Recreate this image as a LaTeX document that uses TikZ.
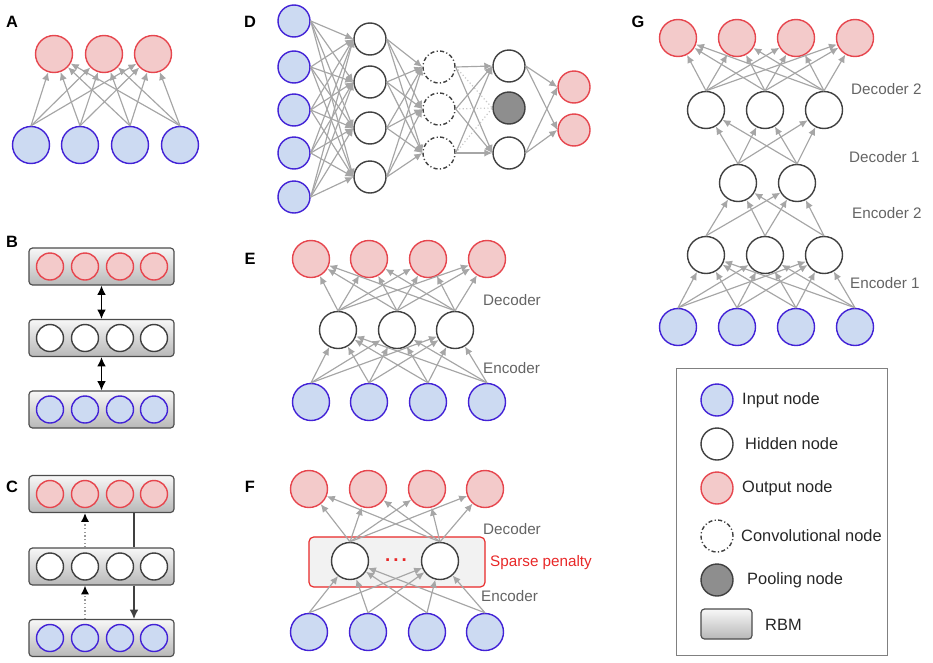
\documentclass[tikz,border=0pt]{standalone}
\usepackage{fontspec}
\setmainfont{Liberation Sans}
\usetikzlibrary{arrows.meta,positioning,calc}
\definecolor{inpfill}{RGB}{204,218,242}
\definecolor{inpline}{RGB}{66,34,214}
\definecolor{outfill}{RGB}{243,202,202}
\definecolor{outline}{RGB}{230,70,78}
\definecolor{hidline}{RGB}{64,64,64}
\definecolor{poolfill}{RGB}{142,142,142}
\definecolor{linkgray}{RGB}{166,166,166}
\definecolor{notegray}{RGB}{100,100,100}
\definecolor{sparsered}{RGB}{232,40,40}
\tikzset{
  neuron/.style={circle,inner sep=0pt,line width=1.2pt,minimum size=#1},
  neuron/.default=11.1mm,
  inpnode/.style={neuron=#1,draw=inpline,fill=inpfill},
  inpnode/.default=11.1mm,
  hidnode/.style={neuron=#1,draw=hidline,fill=white},
  hidnode/.default=11.1mm,
  outnode/.style={neuron=#1,draw=outline,fill=outfill},
  outnode/.default=11.1mm,
  convnode/.style={neuron=#1,draw=hidline,fill=white,dash pattern=on 3.5pt off 2pt on 1pt off 2pt},
  convnode/.default=9.6mm,
  poolnode/.style={neuron=#1,draw=hidline,fill=poolfill},
  poolnode/.default=9.6mm,
  rbmbox/.style={draw=black!70,line width=1pt,rounded corners=3pt,top color=black!3,bottom color=black!28,
    minimum width=43.5mm,minimum height=11.1mm,inner sep=0pt},
  sparsebox/.style={draw=sparsered,line width=1pt,rounded corners=4pt,fill=black!5,
    minimum width=52.8mm,minimum height=15mm,inner sep=0pt},
  keybox/.style={draw=black!50,line width=0.8pt,minimum width=63.3mm,minimum height=86.1mm,inner sep=0pt},
  link/.style={-{Latex[length=2.4mm,width=2.2mm]},line width=1pt,draw=linkgray},
  dotlink/.style={line width=1pt,draw=black!22,dotted},
  duplex/.style={{Latex[length=2.8mm,width=2.6mm]}-{Latex[length=2.8mm,width=2.6mm]},line width=1.1pt,draw=black},
  upflow/.style={-{Latex[length=2.6mm,width=2.4mm,black]},line width=1.1pt,draw=black!40,dotted},
  downflow/.style={line width=1.1pt,draw=black!75},
  panel/.style={font=\fontsize{14}{16}\selectfont\bfseries,inner sep=0pt},
  note/.style={font=\fontsize{13}{15}\selectfont,text=notegray,inner sep=0pt,anchor=west},
  keytext/.style={font=\fontsize{14}{16}\selectfont,text=black!85,inner sep=0pt,anchor=west},
}
\begin{document}
\begin{tikzpicture}[x=0.3mm,y=-0.3mm]
\useasboundingbox (0,0) rectangle (933,662);

% A
\node[panel] (la) at (12,22) {A};
\foreach \i/\x in {1/54,2/104,3/153} \node[outnode] (ao\i) at (\x,54) {};
\foreach \i/\x in {1/31,2/80,3/130,4/180} \node[inpnode] (ai\i) at (\x,145) {};
\foreach \i in {1,...,4} \foreach \j in {1,2,3} \draw[link] (ai\i.north) -- (ao\j);

% B
\node[panel] (lb) at (12,242) {B};
\node[rbmbox] (b1) at (101.5,266.5) {};
\node[rbmbox] (b2) at (101.5,338) {};
\node[rbmbox] (b3) at (101.5,409.5) {};
\foreach \i/\x in {1/50,2/85,3/120,4/154} {
  \node[outnode=8.1mm] (bo\i) at (\x,266.5) {};
  \node[hidnode=8.1mm] (bh\i) at (\x,338) {};
  \node[inpnode=8.1mm] (bi\i) at (\x,409.5) {};
}
\draw[duplex] (b1) -- (b2);
\draw[duplex] (b2) -- (b3);

% C
\node[panel] (lc) at (12,487) {C};
\node[rbmbox] (c1) at (101.5,494) {};
\node[rbmbox] (c2) at (101.5,566.5) {};
\node[rbmbox] (c3) at (101.5,638) {};
\foreach \i/\x in {1/50,2/85,3/120,4/154} {
  \node[outnode=8.1mm] (co\i) at (\x,494) {};
  \node[hidnode=8.1mm] (ch\i) at (\x,566.5) {};
  \node[inpnode=8.1mm] (ci\i) at (\x,638) {};
}
\coordinate (cdown) at (134,566.5);
\draw[upflow] (c2.north -| ch2) -- (c1.south -| ch2);
\draw[upflow] (c3.north -| ch2) -- (c2.south -| ch2);
\draw[downflow] (c1.south -| cdown) -- (c2.north -| cdown);
\draw[downflow,-{Latex[length=2.8mm,width=2.6mm]}] (c2.south -| cdown) -- (c3.north -| cdown);

% D
\node[panel] (ld) at (250,22) {D};
\foreach \i/\y in {1/21,2/67,3/110,4/153,5/197} \node[inpnode=9.6mm] (di\i) at (294,\y) {};
\foreach \i/\y in {1/39,2/82,3/128,4/177} \node[hidnode=9.6mm] (dh\i) at (370,\y) {};
\foreach \i/\y in {1/67,2/109,3/153} \node[convnode] (dc\i) at (439,\y) {};
\node[hidnode=9.6mm] (dp1) at (509,66) {};
\node[poolnode] (dp2) at (509,108) {};
\node[hidnode=9.6mm] (dp3) at (509,153) {};
\foreach \i/\y in {1/87,2/130} \node[outnode=9.6mm] (do\i) at (574,\y) {};
\foreach \i in {1,...,5} \foreach \j in {1,...,4} \draw[link] (di\i.east) -- (dh\j.west);
\foreach \i in {1,...,4} \foreach \j in {1,2,3} \draw[link] (dh\i.east) -- (dc\j.west);
\foreach \i in {1,2,3} {
  \draw[dotlink] (dc\i.east) -- (dp2.west);
  \foreach \j in {1,3} \draw[link] (dc\i.east) -- (dp\j.west);
}
\foreach \i in {1,3} \foreach \j in {1,2} \draw[link] (dp\i.east) -- (do\j.west);

% E
\node[panel] (le) at (250,259) {E};
\foreach \i/\x in {1/311,2/369,3/428,4/487} {
  \node[outnode] (eo\i) at (\x,259) {};
  \node[inpnode] (ei\i) at (\x,402) {};
}
\foreach \i/\x in {1/338,2/397,3/455} \node[hidnode] (eh\i) at (\x,330) {};
\foreach \i in {1,2,3} \foreach \j in {1,...,4} {
  \draw[link] (eh\i.north) -- (eo\j);
  \draw[link] (ei\j.north) -- (eh\i);
}
\node[note] (edec) at (483,300) {Decoder};
\node[note] (eenc) at (483,368) {Encoder};

% F
\node[panel] (lf) at (250,487) {F};
\node[sparsebox] (fbox) at (397,562) {};
\foreach \i/\x in {1/309,2/368,3/427,4/485} {
  \node[outnode] (fo\i) at (\x,489) {};
  \node[inpnode] (fi\i) at (\x,632) {};
}
\foreach \i/\x in {1/350,2/440} \node[hidnode] (fh\i) at (\x,561) {};
\node[text=sparsered,font=\fontsize{16}{16}\selectfont\bfseries,inner sep=0pt] (fdots) at (396,560) {.\,.\,.};
\foreach \i in {1,2} \foreach \j in {1,...,4} {
  \draw[link] (fh\i.north) -- (fo\j);
  \draw[link] (fi\j.north) -- (fh\i);
}
\node[note] (fdec) at (483,529) {Decoder};
\node[note,text=sparsered] (fpen) at (490,563) {Sparse penalty};
\node[note] (fenc) at (481,596) {Encoder};

% G
\node[panel] (lg) at (638,22) {G};
\foreach \i/\x in {1/678,2/737,3/796,4/855} {
  \node[outnode] (go\i) at (\x,38) {};
  \node[inpnode] (gi\i) at (\x,327) {};
}
\foreach \i/\x in {1/706,2/765,3/824} {
  \node[hidnode] (gd\i) at (\x,110) {};
  \node[hidnode] (ge\i) at (\x,255) {};
}
\foreach \i/\x in {1/738,2/797} \node[hidnode] (gm\i) at (\x,183) {};
\foreach \i in {1,2,3} {
  \foreach \j in {1,...,4} {
    \draw[link] (gd\i.north) -- (go\j);
    \draw[link] (gi\j.north) -- (ge\i);
  }
  \foreach \j in {1,2} {
    \draw[link] (gm\j.north) -- (gd\i);
    \draw[link] (ge\i.north) -- (gm\j);
  }
}
\node[note] (gdec2) at (851,89) {Decoder 2};
\node[note] (gdec1) at (849,157) {Decoder 1};
\node[note] (genc2) at (852,213) {Encoder 2};
\node[note] (genc1) at (850,283) {Encoder 1};

% legend
\node[keybox] (key) at (781.5,511.5) {};
\node[inpnode=9.6mm] (kin) at (717,400) {};
\node[hidnode=9.6mm] (khid) at (717,444) {};
\node[outnode=9.6mm] (kout) at (717,488) {};
\node[convnode] (kconv) at (717,536) {};
\node[poolnode] (kpool) at (717,580) {};
\node[rbmbox,minimum width=15.3mm,minimum height=9mm] (krbm) at (726.5,624) {};
\node[keytext] (tin) at (742,400) {Input node};
\node[keytext] (thid) at (745,444) {Hidden node};
\node[keytext] (tout) at (742,488) {Output node};
\node[keytext] (tconv) at (741,536) {Convolutional node};
\node[keytext] (tpool) at (747,580) {Pooling node};
\node[keytext] (trbm) at (765,625) {RBM};
\end{tikzpicture}
\end{document}
